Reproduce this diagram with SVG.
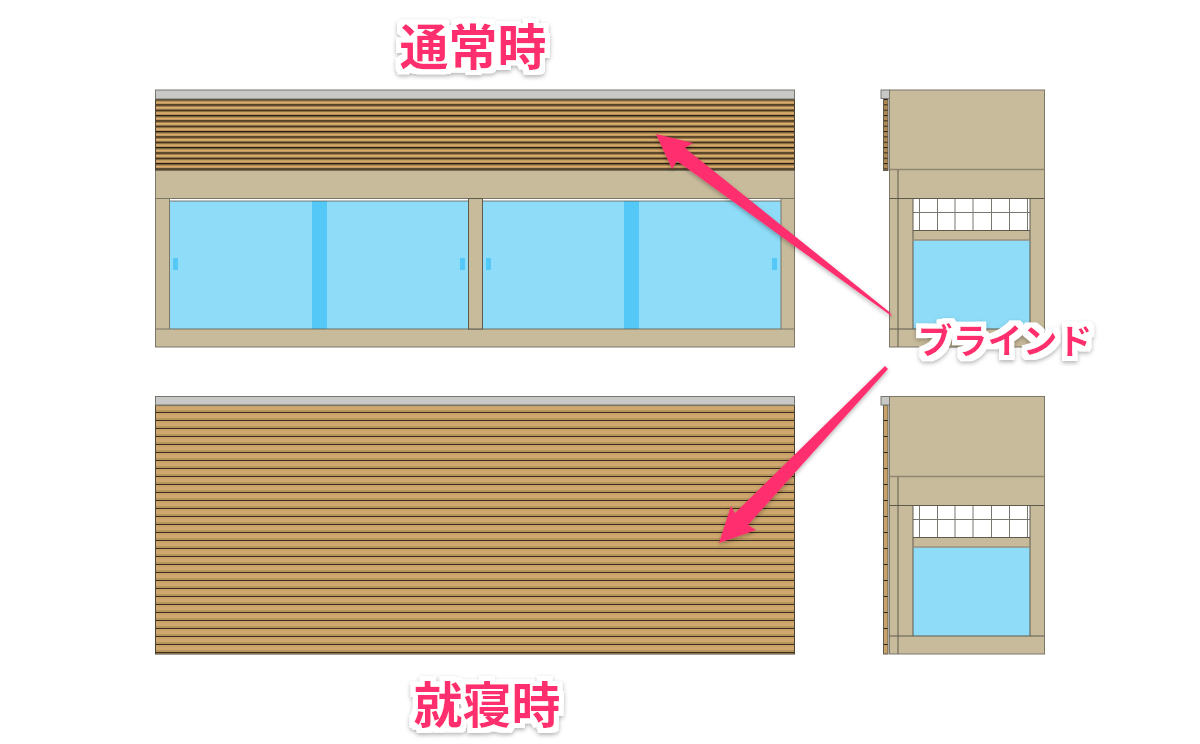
<svg xmlns="http://www.w3.org/2000/svg" width="1200" height="744" viewBox="0 0 1200 744">
<style>
.b{fill:#c8bb9b;stroke:#7d7768;stroke-width:1}
.l{stroke:#5f5a4e;stroke-width:1;fill:none}
.g{fill:#8edcf7}
.s{fill:#54c8f6}
.h{fill:#c8c8c6;stroke:#77776f;stroke-width:1}
.t{font-family:"Noto Sans CJK JP",sans-serif;font-weight:700;fill:#ff2f6e}
.a{fill:#ff2f6e}
</style>
<defs>
<filter id="sh" x="-20%" y="-20%" width="140%" height="140%"><feDropShadow dx="0" dy="2" stdDeviation="2" flood-color="#000" flood-opacity=".3"/></filter>
<filter id="tx" x="-20%" y="-40%" width="140%" height="180%">
<feMorphology in="SourceAlpha" operator="dilate" radius="4.500" result="w0"/>
<feGaussianBlur in="w0" stdDeviation="0.700" result="w1"/>
<feFlood flood-color="#fff"/><feComposite in2="w1" operator="in" result="white"/>
<feGaussianBlur in="w1" stdDeviation="2"/><feOffset dy="2" result="sb"/>
<feFlood flood-color="#000" flood-opacity=".3"/><feComposite in2="sb" operator="in" result="shadow"/>
<feMerge><feMergeNode in="shadow"/><feMergeNode in="white"/><feMergeNode in="SourceGraphic"/></feMerge>
</filter>
<pattern id="p1" width="10" height="5.34" patternUnits="userSpaceOnUse" y="99">
<rect width="10" height="5.34" fill="#b48e58"/><rect y="0" width="10" height="1.2" fill="#241c10"/><rect y="1.2" width="10" height="1.2" fill="#6f5630"/><rect y="2.4" width="10" height="1.7" fill="#e0b272"/>
</pattern>
<pattern id="p2" width="10" height="8" patternUnits="userSpaceOnUse" y="405">
<rect width="10" height="8" fill="#c8a268"/><rect y="2" width="10" height="3" fill="#cea86e"/><rect y="5" width="10" height="2" fill="#b8935c"/><rect y="7" width="10" height="1" fill="#3a2f1e"/>
</pattern>
<pattern id="p3" width="5" height="5.34" patternUnits="userSpaceOnUse" y="99">
<rect width="5" height="5.34" fill="#b08a52"/><rect y="0" width="5" height="1" fill="#2e2518"/>
</pattern>
<pattern id="p4" width="5" height="16" patternUnits="userSpaceOnUse" y="405">
<rect width="5" height="16" fill="#c8a268"/><rect y="15" width="5" height="1" fill="#2b2418"/>
</pattern>
</defs>

<g id="front-normal">
<rect x="155.500" y="170" width="639" height="177" class="b"/>
<rect x="169.500" y="198.500" width="611.500" height="130.500" fill="#fff"/>
<rect x="169.500" y="201" width="611.500" height="128" class="g"/>
<rect x="312" y="201" width="15" height="128" class="s"/>
<rect x="624" y="201" width="15" height="128" class="s"/>
<rect x="173" y="258" width="5" height="12" class="s"/>
<rect x="460" y="258" width="5" height="12" class="s"/>
<rect x="486" y="258" width="5" height="12" class="s"/>
<rect x="772" y="258" width="5" height="12" class="s"/>
<path d="M155.500 198.500H794.500M169.500 201H781M169.500 329H781" class="l" stroke-opacity=".8"/>
<rect x="155.500" y="198.500" width="14" height="130.500" class="b"/>
<rect x="468.500" y="198.500" width="14" height="130.500" class="b" style="stroke:#5f5a4e"/>
<rect x="781" y="198.500" width="13.500" height="130.500" class="b"/>
<rect x="155.500" y="99" width="639" height="71" fill="url(#p1)" stroke="#4a4336"/>
<rect x="155.500" y="90" width="639" height="9" class="h"/>
</g>

<g id="front-sleep">
<rect x="155.500" y="405" width="639" height="249" fill="url(#p2)" stroke="#4a4336"/>
<rect x="155.500" y="396.500" width="639" height="8.500" class="h"/>
</g>

<g id="side-normal">
<rect x="889.500" y="90" width="155" height="257" class="b"/>
<rect x="913" y="198.500" width="117" height="32" fill="#fff"/>
<path d="M919.500 198.500V230M937.500 198.500V230M955 198.500V230M973 198.500V230M991.500 198.500V230M1009.500 198.500V230M1027.500 198.500V230M913 212.500H1030" stroke="#77776f" fill="none"/>
<rect x="913" y="240" width="117" height="89" class="g"/>
<path d="M889.500 169.500H1044.500" stroke="#8f8772" stroke-width="1.500"/>
<path d="M898 170V347M889.500 198.500H1044.500M889.500 329H1044.500M913 198.500V329M1030 198.500V329M913 230.500H1030" class="l"/>
<path d="M913 240H1030" stroke="#9a917b" stroke-width="1.500"/>
<rect x="883.500" y="98.500" width="4.500" height="72" fill="url(#p3)" stroke="#5f5a4e"/>
<rect x="881" y="90" width="8.500" height="8.500" class="h"/>
</g>

<g id="side-sleep">
<rect x="889.500" y="396.500" width="155" height="257.500" class="b"/>
<rect x="913" y="505.500" width="117" height="32" fill="#fff"/>
<path d="M919.500 505.500V537M937.500 505.500V537M955 505.500V537M973 505.500V537M991.500 505.500V537M1009.500 505.500V537M1027.500 505.500V537M913 519.500H1030" stroke="#77776f" fill="none"/>
<rect x="913" y="547" width="117" height="89" class="g"/>
<path d="M889.500 476.500H1044.500" stroke="#8f8772" stroke-width="1.500"/>
<path d="M898 477V654M889.500 505.500H1044.500M889.500 636H1044.500M913 505.500V636M1030 505.500V636M913 537.500H1030" class="l"/>
<path d="M913 547H1030" stroke="#9a917b" stroke-width="1.500"/>
<rect x="883.500" y="405" width="4.500" height="249" fill="url(#p4)" stroke="#5f5a4e"/>
<rect x="881" y="396.500" width="8.500" height="8.500" class="h"/>
</g>

<g id="connectors" filter="url(#sh)">
<polygon class="a" points="890,312.500 892,316.500 677,161 672,169 656,134 693,143 685,148"/>
<polygon class="a" points="885,366 888,369 748,525 756,530 719,543 731,506 735,513"/>
</g>

<g id="labels">
<text class="t" filter="url(#tx)" x="473" y="65" font-size="49" text-anchor="middle">通常時</text>
<text class="t" filter="url(#tx)" x="487" y="723" font-size="49" text-anchor="middle">就寝時</text>
<text class="t" filter="url(#tx)" x="1005" y="354" font-size="35" text-anchor="middle">ブラインド</text>
</g>
</svg>
